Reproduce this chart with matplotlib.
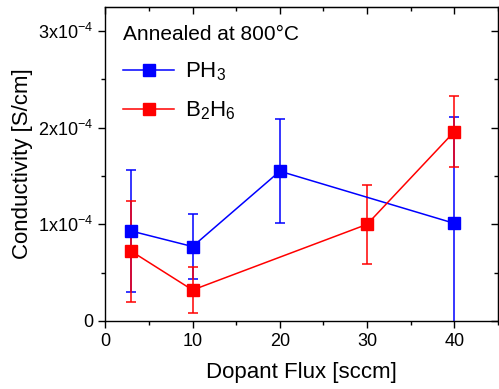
import numpy as np
import matplotlib.pyplot as plt
from matplotlib.lines import Line2D
from matplotlib.ticker import MultipleLocator, FuncFormatter

plt.rcParams['font.family'] = ['Liberation Sans', 'DejaVu Sans']
plt.rcParams['mathtext.fontset'] = 'custom'
plt.rcParams['mathtext.rm'] = 'Liberation Sans'
plt.rcParams['mathtext.it'] = 'Liberation Sans'

# data (conductivity in 1e-4 S/cm)
ph3_x = [3, 10, 20, 40]
ph3_y = [0.93, 0.77, 1.55, 1.01]
ph3_err = [0.63, 0.34, 0.54, 1.10]

b2h6_x = [3, 10, 30, 40]
b2h6_y = [0.72, 0.32, 1.00, 1.96]
b2h6_err = [0.52, 0.24, 0.41, 0.37]

scale = 1e-4
blue, red = '#0000ff', '#ff0000'

fig, ax = plt.subplots(figsize=(4.99, 3.89), dpi=100)
fig.subplots_adjust(left=0.211, right=0.998, top=0.982, bottom=0.175)

ax.errorbar(ph3_x, np.array(ph3_y) * scale, yerr=np.array(ph3_err) * scale,
            color=blue, marker='s', markersize=8, lw=1.1, capsize=3.5,
            elinewidth=1.1, capthick=1.1)
ax.errorbar(b2h6_x, np.array(b2h6_y) * scale, yerr=np.array(b2h6_err) * scale,
            color=red, marker='s', markersize=8, lw=1.1, capsize=3.5,
            elinewidth=1.1, capthick=1.1)

ax.set_xlim(0, 45)
ax.set_ylim(0, 3.25e-4)

def fmt(v, pos):
    n = int(round(v / 1e-4))
    return '0' if n == 0 else '%dx10$^{-4}$' % n

ax.xaxis.set_major_locator(MultipleLocator(10))
ax.xaxis.set_minor_locator(MultipleLocator(5))
ax.yaxis.set_major_locator(MultipleLocator(1e-4))
ax.yaxis.set_minor_locator(MultipleLocator(0.5e-4))
ax.yaxis.set_major_formatter(FuncFormatter(fmt))
ax.tick_params(which='both', direction='out', labelsize=13, width=1)
ax.tick_params(which='major', length=5)
ax.tick_params(which='minor', length=3)

# inward ticks on top and right, no labels
top = ax.secondary_xaxis('top')
right = ax.secondary_yaxis('right')
top.xaxis.set_major_locator(MultipleLocator(10))
top.xaxis.set_minor_locator(MultipleLocator(5))
right.yaxis.set_major_locator(MultipleLocator(1e-4))
right.yaxis.set_minor_locator(MultipleLocator(0.5e-4))
for sec in (top, right):
    sec.tick_params(which='both', direction='in', width=1, labelleft=False,
                    labelright=False, labeltop=False, labelbottom=False)
    sec.tick_params(which='major', length=5)
    sec.tick_params(which='minor', length=3)

for s in ax.spines.values():
    s.set_linewidth(1)

ax.set_xlabel('Dopant Flux [sccm]', fontsize=16, labelpad=9)
ax.set_ylabel('Conductivity [S/cm]', fontsize=16, labelpad=4)

handles = [Line2D([], [], color=blue, marker='s', markersize=8, lw=1.1),
           Line2D([], [], color=red, marker='s', markersize=8, lw=1.1)]
leg = ax.legend(handles, ['PH$_3$', 'B$_2$H$_6$'], loc='upper left',
                title='Annealed at 800°C', frameon=False,
                fontsize=16, title_fontsize=15, handlelength=2.3,
                handletextpad=0.5, borderaxespad=0.4, alignment='left',
                labelspacing=0.75)

fig.savefig('out.png', dpi=100)
